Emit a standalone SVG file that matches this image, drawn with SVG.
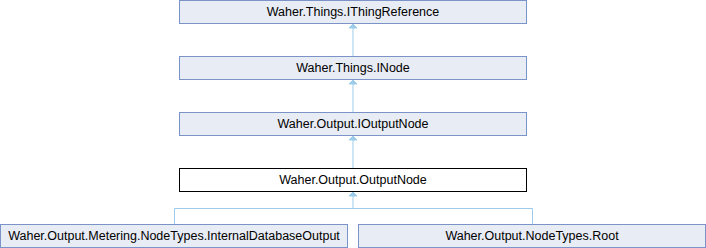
<svg xmlns="http://www.w3.org/2000/svg" width="706" height="248" viewBox="0 0 706 248">
<style>
.n rect{fill:#e8ecf5;stroke:#7b93c9;stroke-width:1}
.f rect{fill:#ffffff;stroke:#000000;stroke-width:1}
text{font-family:"Liberation Sans",Arial,sans-serif;font-size:12.5px;fill:#000;text-anchor:middle}
.e{fill:none;stroke:#9dcbea;stroke-width:1}
</style>
<defs>
<marker id="a" markerWidth="10" markerHeight="10" refX="5" refY="1" orient="0" markerUnits="userSpaceOnUse">
<path d="M1,5 L5,1 L9,5 Z" fill="#9dcbea" stroke="#9dcbea"/>
</marker>
</defs>
<g id="connectors">
<path class="e" d="M353,56 V24" marker-end="url(#a)"/>
<path class="e" d="M353,112 V80" marker-end="url(#a)"/>
<path class="e" d="M353,168 V136" marker-end="url(#a)"/>
<path class="e" d="M353,208 V192" marker-end="url(#a)"/>
<path class="e" d="M174.5,224 V208.5 H532.5 V224"/>
</g>
<g id="n1" class="n"><rect x="179.5" y="0.5" width="347" height="23"/><text x="353" y="16">Waher.Things.IThingReference</text></g>
<g id="n2" class="n"><rect x="179.5" y="56.5" width="347" height="23"/><text x="353" y="72">Waher.Things.INode</text></g>
<g id="n3" class="n"><rect x="179.5" y="112.5" width="347" height="23"/><text x="353" y="128">Waher.Output.IOutputNode</text></g>
<g id="n4" class="f"><rect x="179.5" y="168.5" width="347" height="23"/><text x="353" y="184">Waher.Output.OutputNode</text></g>
<g id="n5" class="n"><rect x="0.5" y="224.5" width="347" height="23"/><text x="174" y="240">Waher.Output.Metering.NodeTypes.InternalDatabaseOutput</text></g>
<g id="n6" class="n"><rect x="358.5" y="224.5" width="347" height="23"/><text x="532" y="240">Waher.Output.NodeTypes.Root</text></g>
</svg>
